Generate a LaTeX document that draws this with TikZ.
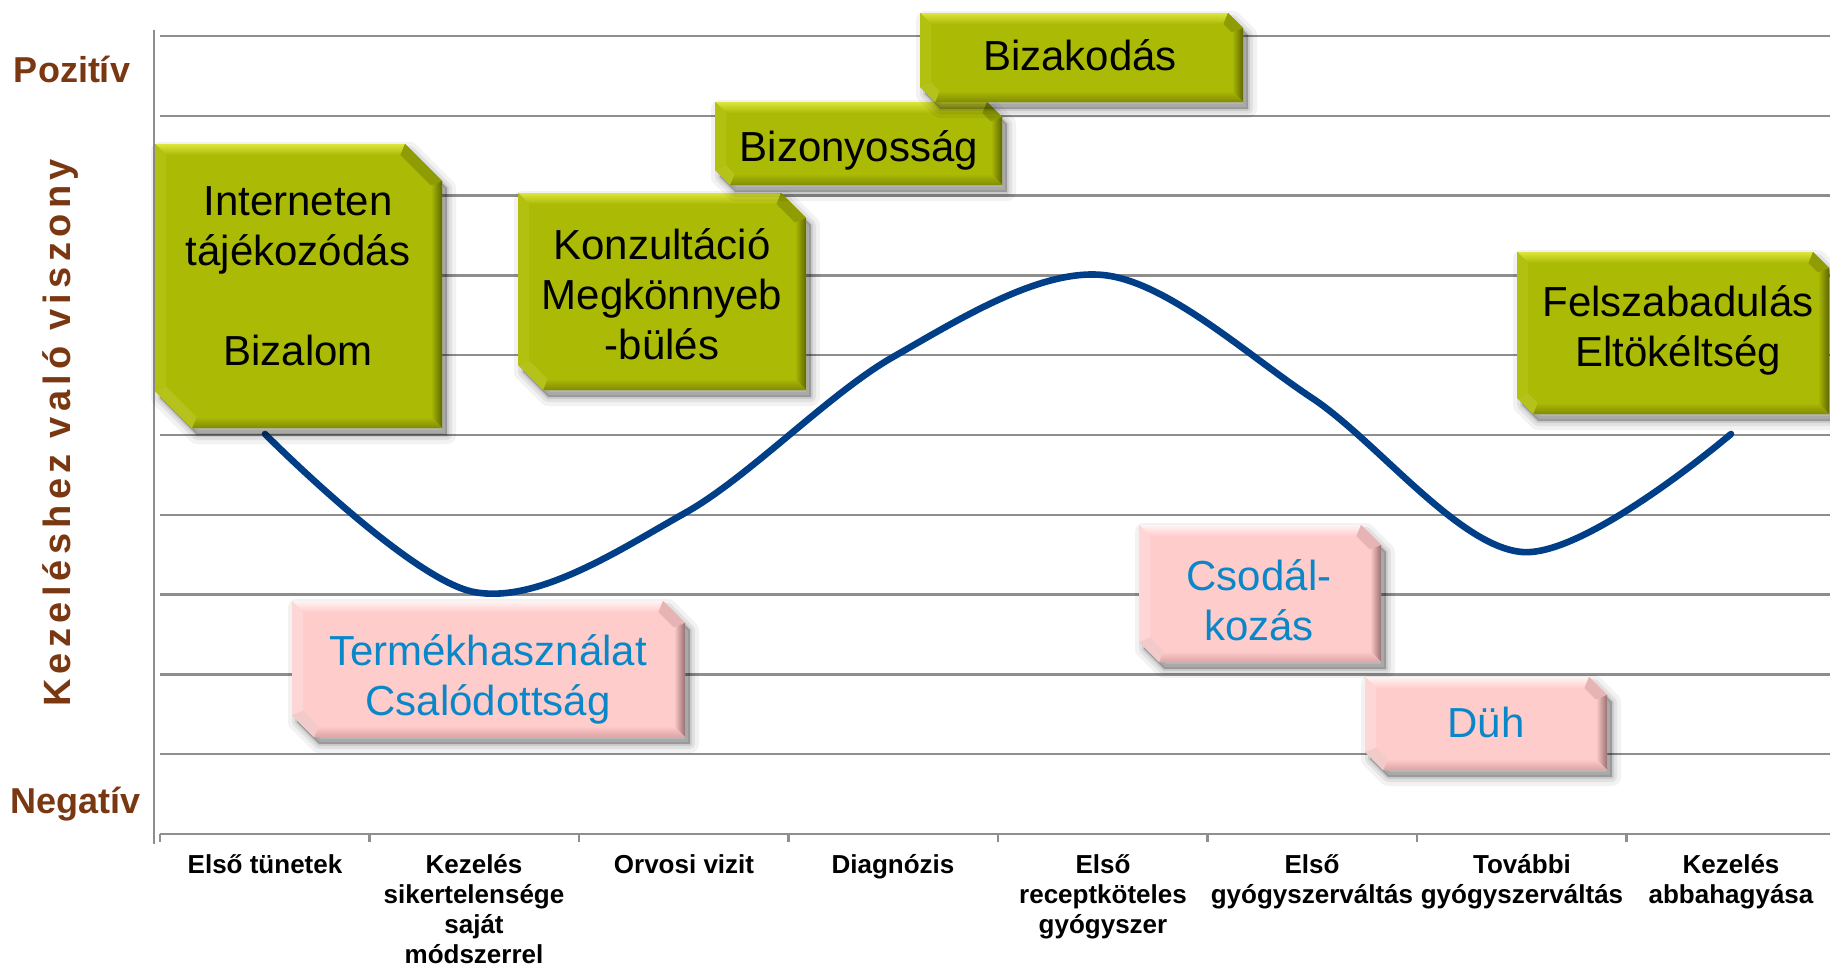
\documentclass[tikz,border=0pt]{standalone}
\usepackage{fontspec}
\setmainfont{Liberation Sans}
\definecolor{gridc}{HTML}{8E8E8E}
\definecolor{curvec}{HTML}{003F87}
\definecolor{brownc}{HTML}{7A3812}
\definecolor{ptext}{HTML}{0A87C8}
\definecolor{gbase}{HTML}{ABBA05}
\definecolor{gtop}{HTML}{DCE53C}
\definecolor{gtr}{HTML}{8F9C03}
\definecolor{gright}{HTML}{5F6800}
\definecolor{gbot}{HTML}{808C02}
\definecolor{gbl}{HTML}{B6C21C}
\definecolor{gleft}{HTML}{B2C010}
\definecolor{pbase}{HTML}{FFCCCC}
\definecolor{ptop}{HTML}{FFF4F4}
\definecolor{ptr}{HTML}{E6B4B4}
\definecolor{pright}{HTML}{9A7070}
\definecolor{pbot}{HTML}{DDA4A4}
\definecolor{pbl}{HTML}{F2CACA}
\definecolor{pleft}{HTML}{FFD6D6}
\tikzset{
  gridln/.style={draw=gridc, line width=1.25pt},
  curveln/.style={draw=curvec, line width=3.3pt, line cap=round},
  boxtxt/.style={font=\fontsize{21}{25}\selectfont, align=center, inner sep=0pt},
  gtxt/.style={boxtxt, text=black},
  ptxt/.style={boxtxt, text=ptext},
  cat/.style={font=\bfseries\fontsize{13}{15}\selectfont, align=center, inner sep=0pt, anchor=north},
  axlab/.style={font=\bfseries\fontsize{18}{20}\selectfont, text=brownc, inner sep=0pt, anchor=base},
}
% #1 x1, #2 y1, #3 x2, #4 y2, #5 chamfer, #6 colour scheme (g or p)
\newcommand{\bevbox}[6]{%
  \pgfmathsetmacro{\xa}{#1}\pgfmathsetmacro{\ya}{#2}%
  \pgfmathsetmacro{\xb}{#3}\pgfmathsetmacro{\yb}{#4}%
  \pgfmathsetmacro{\cc}{#5}\pgfmathsetmacro{\bw}{11}%
  \pgfmathsetmacro{\ci}{\cc-0.586*\bw}%
  \def\outerpath{(\xa,\ya) -- (\xb-\cc,\ya) -- (\xb,\ya+\cc) -- (\xb,\yb) -- (\xa+\cc,\yb) -- (\xa,\yb-\cc) -- cycle}%
  \begin{scope}[shift={(5,7)}]
    \foreach \w/\o in {9pt/0.05,5pt/0.07,2pt/0.09}{\draw[black,opacity=\o,line width=\w,line join=round] \outerpath;}
    \fill[black,opacity=0.25] \outerpath;
  \end{scope}
  \coordinate (O1) at (\xa,\ya); \coordinate (O2) at (\xb-\cc,\ya); \coordinate (O3) at (\xb,\ya+\cc);
  \coordinate (O4) at (\xb,\yb); \coordinate (O5) at (\xa+\cc,\yb); \coordinate (O6) at (\xa,\yb-\cc);
  \coordinate (I1) at (\xa+\bw,\ya+\bw); \coordinate (I2) at (\xb-\bw-\ci,\ya+\bw); \coordinate (I3) at (\xb-\bw,\ya+\bw+\ci);
  \coordinate (I4) at (\xb-\bw,\yb-\bw); \coordinate (I5) at (\xa+\bw+\ci,\yb-\bw); \coordinate (I6) at (\xa+\bw,\yb-\bw-\ci);
  \fill[#6base] \outerpath;
  \shade[top color=#6top, bottom color=#6base] (O1) -- (O2) -- (I2) -- (I1) -- cycle;
  \fill[#6tr] (O2) -- (O3) -- (I3) -- (I2) -- cycle;
  \shade[left color=#6base, right color=#6right] (O3) -- (O4) -- (I4) -- (I3) -- cycle;
  \shade[top color=#6base, bottom color=#6bot] (O4) -- (O5) -- (I5) -- (I4) -- cycle;
  \fill[#6bl] (O5) -- (O6) -- (I6) -- (I5) -- cycle;
  \fill[#6left] (O6) -- (O1) -- (I1) -- (I6) -- cycle;
}
\begin{document}
\begin{tikzpicture}[x=0.5pt,y=-0.5pt]
\useasboundingbox (0,0) rectangle (1830,969);
% grid lines
\foreach \k in {0,...,9} {\draw[gridln] (160,36+79.8*\k) -- (1830,36+79.8*\k);}
% axes
\draw[gridln] (154,30) -- (154,844);
\draw[gridln] (160,834) -- (1830,834);
\foreach \i in {0,...,7} {\draw[gridln] (160+209.5*\i,834) -- (160+209.5*\i,842);}
% axis labels
\node[axlab] (pos) at (72,82) {Pozitív};
\node[axlab] (neg) at (76,813) {Negatív};
\node[font=\bfseries\fontsize{19}{20}\selectfont\addfontfeature{LetterSpace=14}, text=brownc, rotate=90, inner sep=0pt] (ylab) at (61,433) {Kezeléshez való viszony};
% category labels
\node[cat] (c1) at (265,854) {Első tünetek};
\node[cat] (c2) at (474,854) {Kezelés\\sikertelensége\\saját\\módszerrel};
\node[cat] (c3) at (684,854) {Orvosi vizit};
\node[cat] (c4) at (893,854) {Diagnózis};
\node[cat] (c5) at (1103,854) {Első\\receptköteles\\gyógyszer};
\node[cat] (c6) at (1312,854) {Első\\gyógyszerváltás};
\node[cat] (c7) at (1522,854) {További\\gyógyszerváltás};
\node[cat] (c8) at (1731,854) {Kezelés\\abbahagyása};
% curve
\draw[curveln] plot[smooth, tension=0.55] coordinates {(265,434) (474,592) (685,513) (893,357) (1103,275) (1312,398) (1522,552) (1731,434)};
% boxes
\bevbox{155}{144}{442}{428}{37}{g}
\node[gtxt] (b1) at (298,276) {Interneten\\tájékozódás\\[25pt]Bizalom};
\bevbox{518}{193}{806}{390}{25}{g}
\node[gtxt] (b2) at (662,294) {Konzultáció\\Megkönnyeb\\-bülés};
\bevbox{715}{102}{1002}{185}{15}{g}
\node[gtxt, anchor=base] (b3) at (859,161) {Bizonyosság};
\bevbox{920}{13}{1243}{102}{15}{g}
\node[gtxt, anchor=base] (b4) at (1080,70) {Bizakodás};
\bevbox{1517}{252}{1829}{414}{16}{g}
\node[gtxt] (b5) at (1678,330) {Felszabadulás\\Eltökéltség};
\bevbox{292}{601}{685}{737}{22}{p}
\node[ptxt] (b6) at (488,679) {Termékhasználat\\Csalódottság};
\bevbox{1139}{525}{1381}{662}{20}{p}
\node[ptxt] (b7) at (1259,600) {Csodál-\\kozás};
\bevbox{1365}{677}{1607}{770}{18}{p}
\node[ptxt, anchor=base] (b8) at (1486,737) {Düh};
\end{tikzpicture}
\end{document}
